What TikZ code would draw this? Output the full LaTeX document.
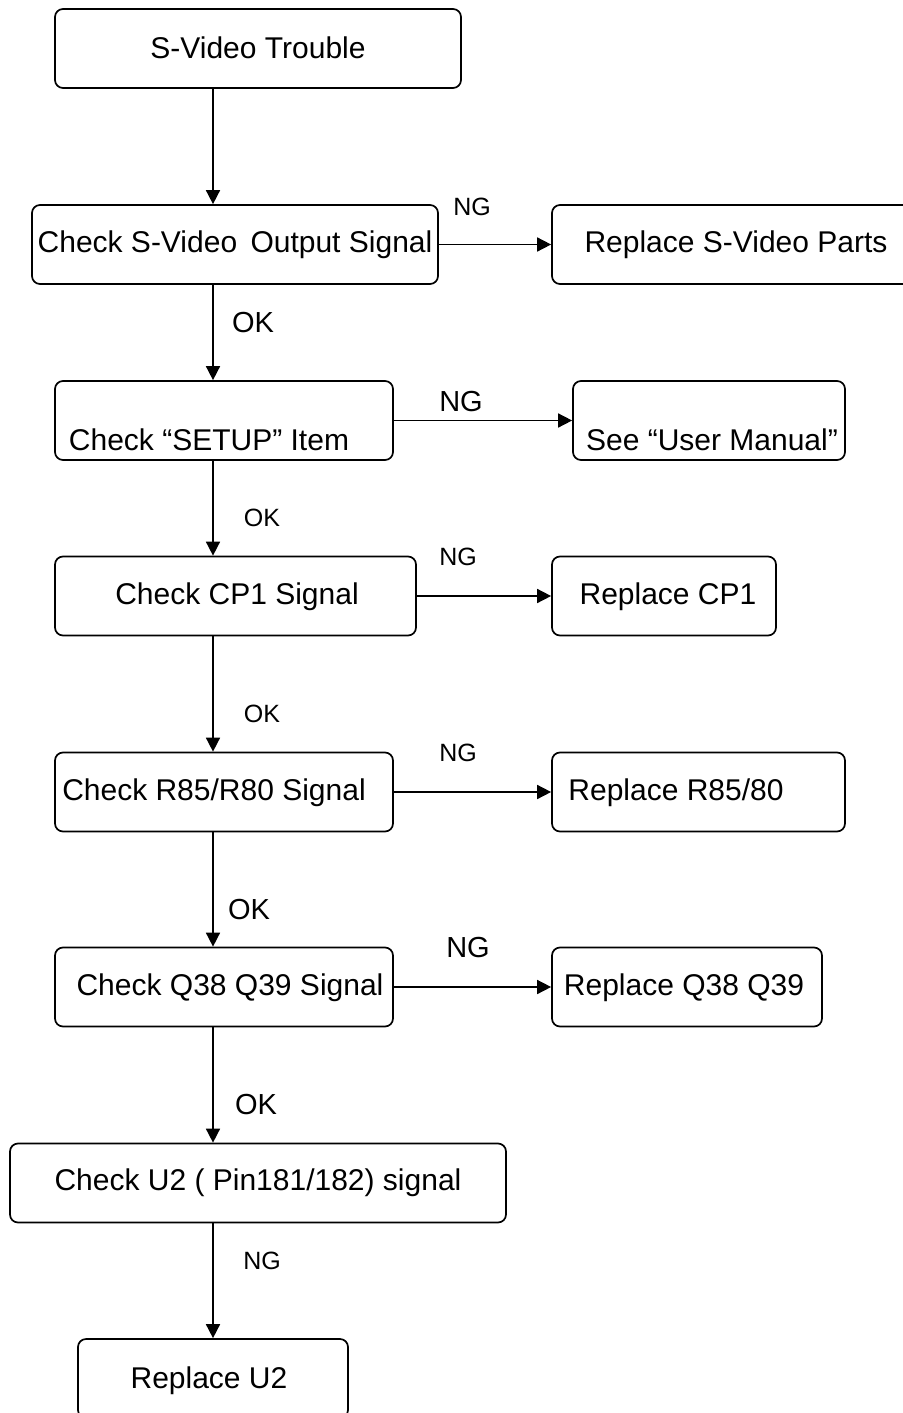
\documentclass[tikz,border=0pt]{standalone}
\usepackage{fontspec}
\setmainfont{Liberation Sans}
\usetikzlibrary{arrows.meta}
\begin{document}
\begin{tikzpicture}[x=0.5pt,y=-0.5pt]
    \tikzstyle{box}=[rectangle,draw,rounded corners=4pt,line width=0.85pt,inner sep=0,minimum height=39.5pt]
    \tikzstyle{txt}=[inner sep=0,font=\fontsize{15}{18}\selectfont]
    \tikzset{
    big tag/.style={inner sep=0,font=\fontsize{14.5}{17}\selectfont},
    small tag/.style={inner sep=0,font=\fontsize{12.5}{15}\selectfont},
    flow/.style={line width=0.8pt,-{Triangle[length=7pt,width=7pt]}}
    }
    \useasboundingbox (0,0) rectangle (903,1413);
    \coordinate (sp) at (213,0);
    % boxes
    \node[box,minimum width=203pt] (trouble) at (258,48.5) {};
    \node[box,minimum width=203pt] (svideo) at (235,244.5) {};
    \node[box,minimum width=204pt] (rsvideo) at (756,244.5) {};
    \node[box,minimum width=169pt] (setup) at (224,420.5) {};
    \node[box,minimum width=136pt] (manual) at (709,420.5) {};
    \node[box,minimum width=180.5pt] (cp) at (235.5,596) {};
    \node[box,minimum width=112pt] (rcp) at (664,596) {};
    \node[box,minimum width=169pt] (res) at (224,792) {};
    \node[box,minimum width=146.5pt] (rres) at (698.5,792) {};
    \node[box,minimum width=169pt] (qq) at (224,987) {};
    \node[box,minimum width=135pt] (rqq) at (687,987) {};
    \node[box,minimum width=248pt] (utwo) at (258,1183) {};
    \node[box,minimum width=135pt] (rutwo) at (213,1378.5) {};
    % texts
    \node[txt] (t1) at (258,48) {S-Video Trouble};
    \node[txt] (t2) at (235,245) {Check S-Video\, Output Signal};
    \node[txt] (t3) at (736,245) {Replace S-Video Parts};
    \node[txt] (t4) at (209,440) {Check “SETUP” Item};
    \node[txt] (t5) at (712,440) {See “User Manual”};
    \node[txt] (t6) at (237,597) {Check CP1 Signal};
    \node[txt] (t7) at (668,597) {Replace CP1};
    \node[txt] (t8) at (214,793) {Check R85/R80 Signal};
    \node[txt] (t9) at (676,793) {Replace R85/80};
    \node[txt] (t10) at (230,988) {Check Q38 Q39 Signal};
    \node[txt] (t11) at (684,988) {Replace Q38 Q39};
    \node[txt] (t12) at (258,1183) {Check U2 ( Pin181/182) signal};
    \node[txt] (t13) at (209,1381) {Replace U2};
    % arrows
    \draw[flow] (trouble.south -| sp) -- (svideo.north -| sp);
    \draw[flow] (svideo.south -| sp) -- (setup.north -| sp);
    \draw[flow] (setup.south -| sp) -- (cp.north -| sp);
    \draw[flow] (cp.south -| sp) -- (res.north -| sp);
    \draw[flow] (res.south -| sp) -- (qq.north -| sp);
    \draw[flow] (qq.south -| sp) -- (utwo.north -| sp);
    \draw[flow] (utwo.south -| sp) -- (rutwo.north -| sp);
    \draw[flow] (svideo) -- (rsvideo);
    \draw[flow] (setup) -- (manual);
    \draw[flow] (cp) -- (rcp);
    \draw[flow] (res) -- (rres);
    \draw[flow] (qq) -- (rqq);
    % tags
    \node[small tag] (ng1) at (472,207) {NG};
    \node[big tag] (ok1) at (253,323) {OK};
    \node[big tag] (ng2) at (461,402) {NG};
    \node[small tag] (ok2) at (262,518) {OK};
    \node[small tag] (ng3) at (458,557) {NG};
    \node[small tag] (ok3) at (262,714) {OK};
    \node[small tag] (ng4) at (458,753) {NG};
    \node[big tag] (ok4) at (249,910) {OK};
    \node[big tag] (ng5) at (468,948) {NG};
    \node[big tag] (ok5) at (256,1105) {OK};
    \node[small tag] (ng6) at (262,1261) {NG};
\end{tikzpicture}
\end{document}
